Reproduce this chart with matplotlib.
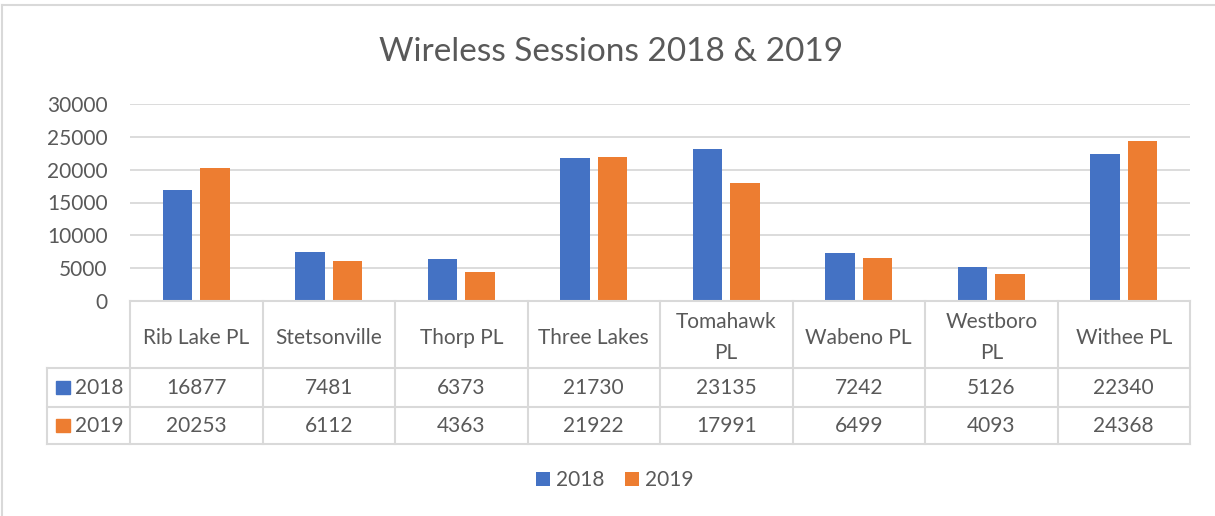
import numpy as np
import matplotlib.pyplot as plt
import matplotlib.transforms as mtransforms
from matplotlib.lines import Line2D
from matplotlib.patches import Rectangle

categories = ['Rib Lake PL', 'Stetsonville', 'Thorp PL', 'Three Lakes',
              'Tomahawk\nPL', 'Wabeno PL', 'Westboro\nPL', 'Withee PL']
sessions_2018 = [16877, 7481, 6373, 21730, 23135, 7242, 5126, 22340]
sessions_2019 = [20253, 6112, 4363, 21922, 17991, 6499, 4093, 24368]
years = ['2018', '2019']
colors = ['#4472C4', '#ED7D31']
yticks = [0, 5000, 10000, 15000, 20000, 25000, 30000]

text_color = '#595959'
line_color = '#D9D9D9'
plt.rcParams['font.family'] = ['Lato', 'DejaVu Sans']

W, H = 1215, 516
fig = plt.figure(figsize=(W / 100, H / 100), dpi=100)


def fx(px):
    return px / W


def fy(py):
    return 1 - py / H


# Chart area
ax = fig.add_axes([fx(130), fy(301), fx(1190) - fx(130), fy(104) - fy(301)])
x = np.arange(len(categories))
offset, width = 0.1415, 0.225
bars18 = ax.bar(x - offset, sessions_2018, width=width, color=colors[0], zorder=3)
bars19 = ax.bar(x + offset, sessions_2019, width=width, color=colors[1], zorder=3)
ax.set_xlim(-0.5, len(categories) - 0.5)
ax.set_ylim(0, 30000)
ax.set_yticks(yticks)
ax.set_xticks([])
ax.yaxis.grid(True, color=line_color, lw=1.3)
ax.set_axisbelow(True)
for s in ax.spines.values():
    s.set_visible(False)
ax.tick_params(axis='y', length=0, labelsize=15, labelcolor=text_color, pad=16)

fig.text(fx(611), fy(52), 'Wireless Sessions 2018 & 2019', ha='center', va='center',
         fontsize=24, color=text_color)

# Data table under the chart
tr = mtransforms.blended_transform_factory(ax.transData, fig.transFigure)
row_top, row_head, row_a, row_b = 301, 368, 407, 444
lw = 1.5
for k in range(len(categories) + 1):
    fig.add_artist(Line2D([k - 0.5, k - 0.5], [fy(row_top), fy(row_b)],
                          transform=tr, color=line_color, lw=lw))
fig.add_artist(Line2D([fx(47), fx(47)], [fy(row_head), fy(row_b)],
                      transform=fig.transFigure, color=line_color, lw=lw))
fig.add_artist(Line2D([fx(130), fx(1190)], [fy(row_top), fy(row_top)],
                      transform=fig.transFigure, color=line_color, lw=lw))
for yy in (row_head, row_a, row_b):
    fig.add_artist(Line2D([fx(47), fx(1190)], [fy(yy), fy(yy)],
                          transform=fig.transFigure, color=line_color, lw=lw))

for i, name in enumerate(categories):
    fig.text(i, fy((row_top + row_head) / 2 + 3), name, transform=tr, ha='center',
             va='center', fontsize=15, color=text_color, linespacing=1.7)

rows = [(sessions_2018, (row_head + row_a) / 2), (sessions_2019, (row_a + row_b) / 2)]
for j, (vals, yc) in enumerate(rows):
    for i, v in enumerate(vals):
        fig.text(i, fy(yc), str(v), transform=tr, ha='center', va='center',
                 fontsize=15, color=text_color)
    fig.add_artist(Rectangle((fx(56), fy(yc + 6.5)), fx(14), 13 / H,
                             transform=fig.transFigure, color=colors[j]))
    fig.text(fx(75), fy(yc), years[j], ha='left', va='center', fontsize=15,
             color=text_color)

# Legend
fig.legend([bars18, bars19], years, loc='center', bbox_to_anchor=(fx(615), fy(480)),
           ncol=2, frameon=False, fontsize=15, labelcolor=text_color,
           handlelength=0.65, handleheight=0.65, handletextpad=0.3, columnspacing=1.0)

# Outer frame (top and left edges visible)
fig.add_artist(Line2D([fx(2), fx(1215)], [fy(5), fy(5)], transform=fig.transFigure,
                      color=line_color, lw=1.5))
fig.add_artist(Line2D([fx(2), fx(2)], [fy(5), fy(516)], transform=fig.transFigure,
                      color=line_color, lw=1.5))

fig.savefig('out.png', dpi=100)
